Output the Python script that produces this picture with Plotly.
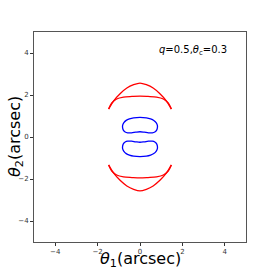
import plotly.graph_objects as go

# Red curves: top crescent (outer arc and inner arc), values in arcsec
red_top_outer_x = [-1.48, -1.26, -0.94, -0.62, -0.30, 0.0, 0.30, 0.62, 0.94, 1.26, 1.48]
red_top_outer_y = [1.33, 1.70, 2.06, 2.33, 2.49, 2.57, 2.49, 2.33, 2.06, 1.70, 1.33]
red_top_inner_x = [-1.48, -1.33, -1.10, -0.78, -0.38, 0.0, 0.38, 0.78, 1.10, 1.33, 1.48]
red_top_inner_y = [1.33, 1.62, 1.81, 1.90, 1.93, 1.95, 1.93, 1.90, 1.81, 1.62, 1.33]

red_bot_outer_x = [-1.48, -1.26, -0.94, -0.62, -0.30, 0.0, 0.30, 0.62, 0.94, 1.26, 1.48]
red_bot_outer_y = [-1.33, -1.70, -2.06, -2.33, -2.49, -2.57, -2.49, -2.33, -2.06, -1.70, -1.33]
red_bot_inner_x = [-1.48, -1.33, -1.10, -0.78, -0.38, 0.0, 0.38, 0.78, 1.10, 1.33, 1.48]
red_bot_inner_y = [-1.33, -1.62, -1.81, -1.90, -1.93, -1.95, -1.93, -1.90, -1.81, -1.62, -1.33]

# Blue curves: two kidney shapes
blue_top_x = [0.0, 0.30, 0.50, 0.65, 0.76, 0.82, 0.82, 0.78, 0.70, 0.58, 0.40, 0.20, 0.0,
              -0.20, -0.40, -0.58, -0.70, -0.78, -0.82, -0.82, -0.76, -0.65, -0.50, -0.30, 0.0]
blue_top_y = [0.93, 0.91, 0.86, 0.79, 0.68, 0.55, 0.43, 0.32, 0.24, 0.20, 0.20, 0.23, 0.25,
              0.23, 0.20, 0.20, 0.24, 0.32, 0.43, 0.55, 0.68, 0.79, 0.86, 0.91, 0.93]
blue_bot_x = [0.0, 0.30, 0.50, 0.65, 0.76, 0.82, 0.82, 0.78, 0.70, 0.58, 0.40, 0.20, 0.0,
              -0.20, -0.40, -0.58, -0.70, -0.78, -0.82, -0.82, -0.76, -0.65, -0.50, -0.30, 0.0]
blue_bot_y = [-0.93, -0.91, -0.86, -0.79, -0.68, -0.55, -0.43, -0.32, -0.24, -0.20, -0.20, -0.23, -0.25,
              -0.23, -0.20, -0.20, -0.24, -0.32, -0.43, -0.55, -0.68, -0.79, -0.86, -0.91, -0.93]

tick_vals = [-4, -2, 0, 2, 4]
tick_text = ["\u22124", "\u22122", "0", "2", "4"]

fig = go.Figure()
for xs, ys in [(red_top_outer_x, red_top_outer_y), (red_top_inner_x, red_top_inner_y),
               (red_bot_outer_x, red_bot_outer_y), (red_bot_inner_x, red_bot_inner_y)]:
    fig.add_trace(go.Scatter(x=xs, y=ys, mode="lines",
                             line=dict(color="red", width=1.3, shape="spline", smoothing=0.8),
                             showlegend=False, hoverinfo="skip"))
for xs, ys in [(blue_top_x, blue_top_y), (blue_bot_x, blue_bot_y)]:
    fig.add_trace(go.Scatter(x=xs, y=ys, mode="lines",
                             line=dict(color="blue", width=1.3, shape="spline", smoothing=1.0),
                             showlegend=False, hoverinfo="skip"))

axis_common = dict(range=[-5, 5], tickvals=tick_vals, ticktext=tick_text, ticks="outside", ticklen=3,
                   tickcolor="#333", tickfont=dict(family="DejaVu Sans", size=7, color="#333"),
                   showgrid=False, zeroline=False, showline=True, linecolor="#555", linewidth=1,
                   mirror=True, automargin=False)

L, R, T, B = 34, 27, 32, 31
pw, ph = 273 - L - R, 273 - T - B

fig.update_layout(
    width=273, height=273,
    margin=dict(l=L, r=R, t=T, b=B),
    paper_bgcolor="white", plot_bgcolor="white",
    xaxis=dict(**axis_common),
    yaxis=dict(**axis_common),
    annotations=[
        dict(x=2.5, y=4.1, xref="x", yref="y", showarrow=False,
             xanchor="center", yanchor="middle",
             text="<i>q</i>=0.5,<i>θ</i><sub>c</sub>=0.3",
             font=dict(family="DejaVu Sans", size=10, color="black")),
        dict(x=(140 - L) / pw, y=-(259 - (273 - B)) / ph, xref="paper", yref="paper",
             xanchor="center", yanchor="middle",
             showarrow=False, text="<i>θ</i><sub>1</sub>(arcsec)",
             font=dict(family="DejaVu Sans", size=16, color="black")),
        dict(x=(15 - L) / pw, y=((273 - B) - 137) / ph, xref="paper", yref="paper",
             xanchor="center", yanchor="middle",
             showarrow=False, textangle=-90, text="<i>θ</i><sub>2</sub>(arcsec)",
             font=dict(family="DejaVu Sans", size=16, color="black")),
    ],
)

fig.write_html("out.html", config={"displayModeBar": False},
               post_script="document.body.style.margin='0';document.body.style.padding='0';")
